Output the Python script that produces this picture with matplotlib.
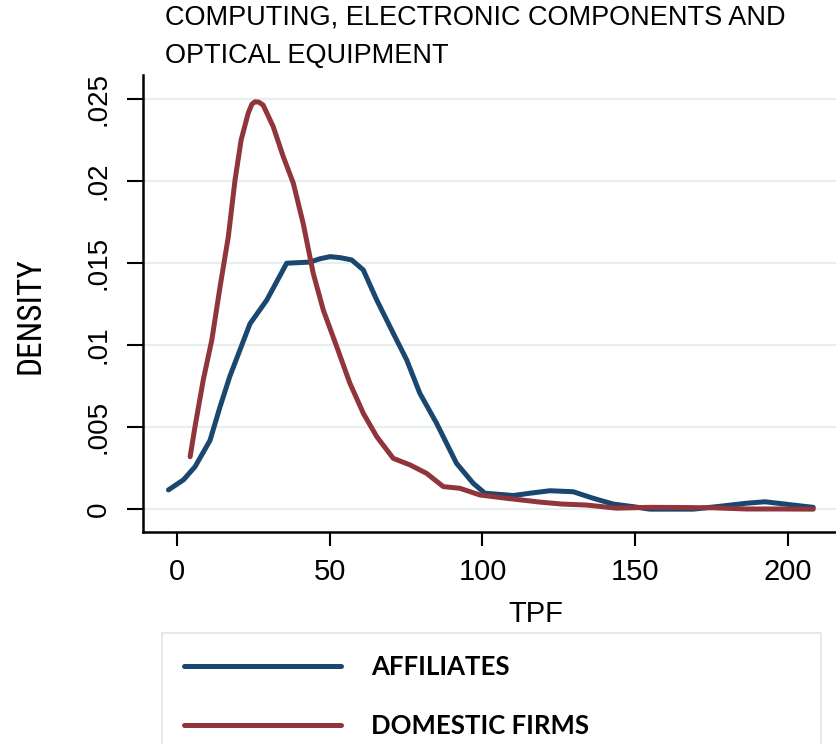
import numpy as np
import matplotlib
matplotlib.use('Agg')
import matplotlib.pyplot as plt
from matplotlib.lines import Line2D

# kernel density curves
aff_x = [-2.8, 2.1, 5.9, 10.8, 14.1, 17.3, 20.6, 23.9, 29.4, 35.9, 43.5, 46.8, 50.1, 53.4,
         57.2, 61.0, 65.4, 70.8, 75.2, 79.5, 85.0, 91.5, 97.0, 100.8, 110.1, 116.0, 122.1,
         129.7, 136.3, 142.8, 149.4, 154.8, 169.0, 176.6, 186.5, 192.5, 201.7, 208.3]
aff_y = [.00119, .0018, .0026, .0042, .00625, .0081, .0097, .0113, .01274, .01498, .01505,
         .01525, .01538, .01532, .01518, .01457, .01274, .01072, .0091, .00707, .00524,
         .00281, .00159, .00099, .00085, .00100, .00114, .00108, .00068, .00033, .00017,
         .00002, .00002, .00017, .00038, .00047, .00027, .00013]

dom_x = [4.3, 5.9, 8.6, 11.4, 14.1, 16.8, 19.0, 21.0, 23.3, 24.5, 25.5, 26.8, 28.2, 31.5,
         34.8, 38.1, 41.3, 44.6, 47.9, 52.3, 56.6, 61.0, 65.4, 70.8, 76.3, 81.7, 87.2, 92.6,
         99.2, 107.9, 118.8, 126.0, 134.1, 143.9, 154.8, 165.0, 176.0, 186.5, 197.0, 208.3]
dom_y = [.00321, .00504, .00788, .01031, .01355, .01659, .02004, .02248, .0241, .02465,
         .0248, .02478, .0246, .02329, .02146, .01984, .01741, .01437, .01213, .0099,
         .00768, .00585, .00443, .00311, .00271, .0022, .00139, .00129, .00088, .00068,
         .00045, .00033, .00027, .00008, .00013, .00012, .0001, .00003, .00003, .00002]

series = ['AFFILIATES', 'DOMESTIC FIRMS']
colors = ['#1a476f', '#90353b']

yticks = [0, .005, .01, .015, .02, .025]
ylabels = ['0', '.005', '.01', '.015', '.02', '.025']
xticks = [0, 50, 100, 150, 200]

W, H = 836, 744
fig = plt.figure(figsize=(W / 100, H / 100), dpi=100)
# plot region runs past the right edge, as in the cropped original
ax = fig.add_axes([143 / W, 1 - 532 / H, (929 - 143) / W, (532 - 75) / H])

ax.plot(aff_x, aff_y, color=colors[0], lw=3.6, solid_capstyle='round', solid_joinstyle='round')
ax.plot(dom_x, dom_y, color=colors[1], lw=3.6, solid_capstyle='round', solid_joinstyle='round')

ax.set_xlim(-11.13, 246.2)
ax.set_ylim(-0.00137, 0.02643)

ax.spines['top'].set_visible(False)
ax.spines['right'].set_visible(False)
for s in ['left', 'bottom']:
	ax.spines[s].set_linewidth(1.8)
	ax.spines[s].set_color('black')

ax.set_yticks(yticks, ylabels)
ax.set_xticks(xticks)
ax.grid(axis='y', color='#e6eef0', lw=1.6)
ax.set_axisbelow(True)

sans = ['Liberation Sans', 'DejaVu Sans']
narrow = ['Roboto Condensed', 'Liberation Sans Narrow', 'DejaVu Sans Condensed', 'Liberation Sans']
ax.tick_params(axis='x', length=10, width=1.5, pad=9, labelsize=21)
ax.tick_params(axis='y', length=11.5, width=1.5, pad=11, labelsize=20)
for t in ax.get_xticklabels():
	t.set_family(sans)
for t in ax.get_yticklabels():
	t.set_family(sans)
	t.set_rotation(90)
	t.set_va('center')

ax.set_xlabel('TPF', family=sans, fontsize=21, va='center')
ax.xaxis.set_label_coords(0.5, -0.179)
ax.set_ylabel('DENSITY', family=narrow, fontsize=24, va='center')
ax.yaxis.set_label_coords(-0.1425, 0.4726)

fig.text(165 / W, 1 - 5 / H, 'COMPUTING, ELECTRONIC COMPONENTS AND\nOPTICAL EQUIPMENT',
	family=sans, fontsize=19.5, ha='left', va='top', linespacing=1.62)

handles = [Line2D([], [], color=c, lw=3.6, solid_capstyle='round') for c in colors]
leg = fig.legend(handles, series, loc='upper left', mode='expand',
	bbox_to_anchor=(162 / W, 0, 659 / W, 1 - 633 / H), borderaxespad=0,
	prop={'family': 'Lato', 'weight': 'bold', 'size': 18.5},
	handlelength=6.1, handletextpad=1.2, borderpad=0.85, labelspacing=1.35,
	fancybox=False, frameon=True)
leg.get_frame().set_edgecolor('#dde6ea')
leg.get_frame().set_linewidth(1.5)

plt.savefig('out.png', dpi=100)
plt.close()
